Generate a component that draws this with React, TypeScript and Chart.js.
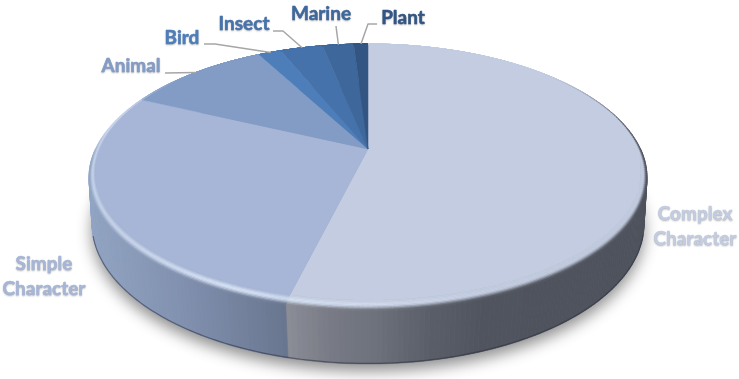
import React, { useEffect, useRef } from "react";
import { Chart, registerables } from "chart.js";

Chart.register(...registerables);

const categories = ["Complex Character", "Simple Character", "Animal", "Bird", "Insect", "Marine", "Plant"];
const shares = [53.85, 28.15, 10.2, 1.6, 3, 2.2, 1];
const sliceColors = ["#C3CCE0", "#A7B6D6", "#839CC6", "#4D7EBA", "#4672AB", "#3E679B", "#335583"];

// Layout only: where each label sits, and the elbow of its leader line.
const labelLines: string[][] = [["Complex", "Character"], ["Simple", "Character"], ["Animal"], ["Bird"], ["Insect"], ["Marine"], ["Plant"]];
const labelCentres = [[695, 214], [44, 264], [131, 66], [182, 38], [244, 24], [321, 14], [403, 18]];
const leaderStarts: (number[] | null)[] = [null, null, [165, 73], [204, 44], [273, 31], [336, 26], [377, 24]];
const leaderElbows: (number[] | null)[] = [null, null, null, [215, 44], [283, 31], null, [368, 24]];

type Persp = { cx: number; y0: number; a: number; b: number; k: number };
const surface: Persp = { cx: 368, y0: 149, a: 123.9, b: 268.5, k: 0.18 };
const rim: Persp = { cx: 368, y0: 149, a: 127.4, b: 272.6, k: 0.2135 };
const base: Persp = { cx: 368, y0: 196.7, a: 134.7, b: 270.7, k: 0.195 };

const project = (m: Persp, angle: number): [number, number] => {
  const u = Math.cos(angle);
  const v = Math.sin(angle);
  const w = 1 - m.k * v;
  return [m.cx + (m.b * u) / w, m.y0 + (m.a * v) / w];
};

type RGB = [number, number, number];
const hex = (h: string): RGB => [parseInt(h.slice(1, 3), 16), parseInt(h.slice(3, 5), 16), parseInt(h.slice(5, 7), 16)];
const mix = (p: RGB, q: RGB, t: number): RGB => [p[0] + (q[0] - p[0]) * t, p[1] + (q[1] - p[1]) * t, p[2] + (q[2] - p[2]) * t];
const css = (c: RGB) => `rgb(${Math.round(c[0])},${Math.round(c[1])},${Math.round(c[2])})`;
const smooth = (e0: number, e1: number, x: number) => {
  const t = Math.min(1, Math.max(0, (x - e0) / (e1 - e0)));
  return t * t * (3 - 2 * t);
};
const ramp = (stops: [number, RGB][], x: number): RGB => {
  if (x <= stops[0][0]) return stops[0][1];
  for (let i = 1; i < stops.length; i++) {
    if (x <= stops[i][0]) return mix(stops[i - 1][1], stops[i][1], (x - stops[i - 1][0]) / (stops[i][0] - stops[i - 1][0]));
  }
  return stops[stops.length - 1][1];
};
const warmWall: [number, RGB][] = [[288, [138, 140, 150]], [330, [120, 122, 133]], [370, [110, 115, 125]], [430, [90, 94, 104]], [485, [80, 84, 94]], [645, [78, 82, 92]]];
const coolWall: [number, RGB][] = [[90, [146, 165, 196]], [200, [125, 140, 170]], [288, [104, 117, 142]]];
const wallColour = (index: number, x: number): RGB => (index === 0 ? ramp(warmWall, x) : ramp(coolWall, x));
const hiStops: [number, number][] = [[90, 0.55], [230, 0.9], [368, 0.55], [480, 0.12], [560, 0], [700, 0]];
const hiAmount = (x: number) => {
  for (let i = 1; i < hiStops.length; i++) {
    if (x <= hiStops[i][0]) return hiStops[i - 1][1] + ((hiStops[i][1] - hiStops[i - 1][1]) * (x - hiStops[i - 1][0])) / (hiStops[i][0] - hiStops[i - 1][0]);
  }
  return 0;
};

const quad = (ctx: CanvasRenderingContext2D, pts: [number, number][], colour: string) => {
  ctx.beginPath();
  pts.forEach((p, i) => (i ? ctx.lineTo(p[0], p[1]) : ctx.moveTo(p[0], p[1])));
  ctx.closePath();
  ctx.fillStyle = colour;
  ctx.strokeStyle = colour;
  ctx.lineWidth = 0.6;
  ctx.fill();
  ctx.stroke();
};

const pie3d = {
  id: "pie3d",
  beforeDatasetDraw(chart: any) {
    const ctx: CanvasRenderingContext2D = chart.ctx;
    const arcs = chart.getDatasetMeta(0).data;
    const step = Math.PI / 200;
    ctx.save();

    // soft shadow under the disc
    ctx.save();
    ctx.shadowColor = "rgba(0,0,0,0.45)";
    ctx.shadowBlur = 15;
    ctx.shadowOffsetY = 7;
    ctx.fillStyle = "#888";
    ctx.beginPath();
    for (let a = 0; a < Math.PI * 2; a += step) {
      const p = project(base, a);
      a ? ctx.lineTo(p[0], p[1]) : ctx.moveTo(p[0], p[1]);
    }
    ctx.closePath();
    ctx.fill();
    ctx.restore();

    // wall
    arcs.forEach((arc: any, i: number) => {
      const n = Math.max(1, Math.ceil((arc.endAngle - arc.startAngle) / step));
      const d = (arc.endAngle - arc.startAngle) / n;
      for (let s = 0; s < n; s++) {
        const a0 = arc.startAngle + s * d;
        const a1 = a0 + d;
        if (Math.sin(a0) < 0 && Math.sin(a1) < 0) continue;
        const p0 = project(rim, a0);
        const p1 = project(rim, a1);
        const q0 = project(base, a0);
        const q1 = project(base, a1);
        quad(ctx, [p0, p1, q1, q0], css(wallColour(i, (p0[0] + p1[0]) / 2)));
      }
    });

    // thin dark foot of the wall
    ctx.beginPath();
    for (let a = 0.28; a <= Math.PI - 0.28; a += step) {
      const p = project(base, a);
      a === 0.28 ? ctx.moveTo(p[0], p[1] - 0.6) : ctx.lineTo(p[0], p[1] - 0.6);
    }
    ctx.strokeStyle = "rgba(45,50,65,0.55)";
    ctx.lineWidth = 1.2;
    ctx.stroke();

    // top face
    arcs.forEach((arc: any) => {
      const colour = arc.options.backgroundColor;
      ctx.beginPath();
      ctx.moveTo(surface.cx, surface.y0);
      const n = Math.max(2, Math.ceil((arc.endAngle - arc.startAngle) / step));
      for (let s = 0; s <= n; s++) {
        const p = project(surface, arc.startAngle + ((arc.endAngle - arc.startAngle) * s) / n);
        ctx.lineTo(p[0], p[1]);
      }
      ctx.closePath();
      ctx.fillStyle = colour;
      ctx.strokeStyle = colour;
      ctx.lineWidth = 0.5;
      ctx.fill();
      ctx.stroke();
    });

    // bevel between the top face and the wall
    const bands = 8;
    const light: RGB = [220, 232, 250];
    const dark: RGB = [78, 82, 92];
    arcs.forEach((arc: any, i: number) => {
      const top = hex(arc.options.backgroundColor);
      const n = Math.max(1, Math.ceil((arc.endAngle - arc.startAngle) / step));
      const d = (arc.endAngle - arc.startAngle) / n;
      for (let s = 0; s < n; s++) {
        const a0 = arc.startAngle + s * d;
        const a1 = a0 + d;
        const i0 = project(surface, a0);
        const i1 = project(surface, a1);
        const o0 = project(rim, a0);
        const o1 = project(rim, a1);
        const v = Math.sin((a0 + a1) / 2);
        const onRight = Math.cos((a0 + a1) / 2) > 0;
        for (let b = 0; b < bands; b++) {
          const t0 = b / bands;
          const t1 = (b + 1) / bands;
          const tm = (t0 + t1) / 2;
          const lerp = (p: [number, number], q: [number, number], t: number): [number, number] => [p[0] + (q[0] - p[0]) * t, p[1] + (q[1] - p[1]) * t];
          const pa = lerp(i0, o0, t0);
          const pb = lerp(i1, o1, t0);
          const pc = lerp(i1, o1, t1);
          const pd = lerp(i0, o0, t1);
          const x = (pa[0] + pc[0]) / 2;
          const hi = mix(top, light, hiAmount(x) * smooth(-0.7, -0.15, v));
          const wallAmt = onRight ? smooth(-0.7, -0.05, v) : smooth(-0.2, 0.15, v);
          const wall = mix(hi, onRight && v < 0 ? dark : wallColour(i, x), wallAmt);
          const col = tm < 0.45 ? mix(top, hi, smooth(0, 0.45, tm)) : mix(hi, wall, smooth(0.45, 1, tm));
          quad(ctx, [pa, pb, pc, pd], css(col));
        }
      }
    });
    ctx.restore();
    return false; // the arcs have been drawn through the projection above
  },
  afterDatasetsDraw(chart: any) {
    const ctx: CanvasRenderingContext2D = chart.ctx;
    const arcs = chart.getDatasetMeta(0).data;
    ctx.save();
    arcs.forEach((arc: any, i: number) => {
      const start = leaderStarts[i];
      if (start) {
        const end = project(rim, (arc.startAngle + arc.endAngle) / 2);
        ctx.beginPath();
        ctx.moveTo(start[0], start[1]);
        const elbow = leaderElbows[i];
        if (elbow) ctx.lineTo(elbow[0], elbow[1]);
        ctx.lineTo(end[0], end[1]);
        ctx.strokeStyle = "#A6A6A6";
        ctx.lineWidth = 1.5;
        ctx.stroke();
      }
      ctx.font = "700 19px Lato";
      ctx.textAlign = "center";
      ctx.textBaseline = "middle";
      ctx.fillStyle = sliceColors[i];
      ctx.strokeStyle = sliceColors[i];
      ctx.lineWidth = 0.5;
      ctx.lineJoin = "round";
      ctx.shadowColor = "rgba(0,0,0,0.2)";
      ctx.shadowBlur = 2;
      ctx.shadowOffsetY = 1;
      const c = labelCentres[i];
      labelLines[i].forEach((line, j) => {
        ctx.strokeText(line, c[0], c[1] + j * 25);
        ctx.fillText(line, c[0], c[1] + j * 25);
      });
      ctx.shadowColor = "transparent";
      ctx.shadowBlur = 0;
      ctx.shadowOffsetY = 0;
    });
    ctx.restore();
  },
};

export default function App() {
  const ref = useRef<HTMLCanvasElement>(null);
  useEffect(() => {
    const prev = document.body.style.margin;
    document.body.style.margin = "0";
    const chart = new Chart(ref.current!, {
      type: "pie",
      data: {
        labels: categories,
        datasets: [{ data: shares, backgroundColor: sliceColors, borderWidth: 0 }],
      },
      options: {
        responsive: false,
        animation: false,
        plugins: { legend: { display: false }, tooltip: { enabled: false } },
      },
      plugins: [pie3d],
    } as any);
    return () => {
      chart.destroy();
      document.body.style.margin = prev;
    };
  }, []);
  return (
    <div style={{ width: 739, height: 379, background: "#fff" }}>
      <canvas ref={ref} width={739} height={379} style={{ display: "block" }} />
    </div>
  );
}
